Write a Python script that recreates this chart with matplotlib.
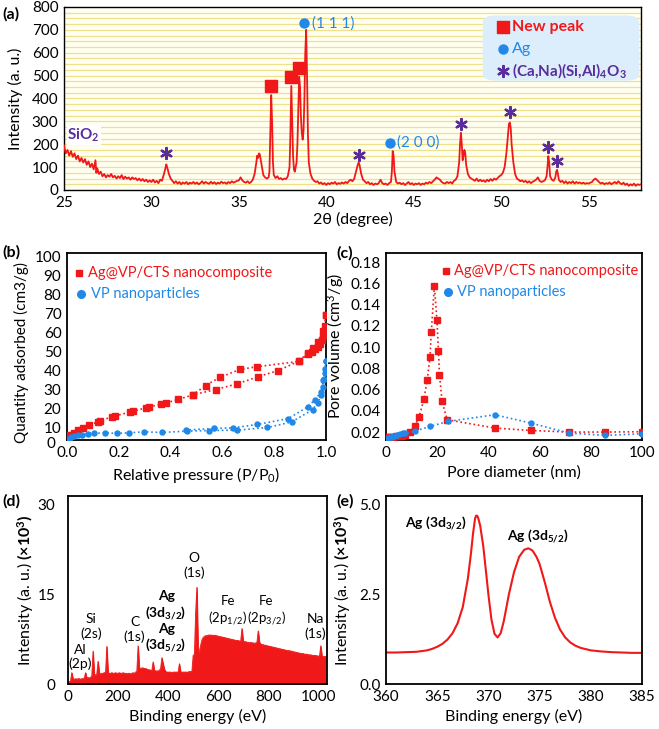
import numpy as np
import matplotlib
matplotlib.use("Agg")
import matplotlib.pyplot as plt
from matplotlib.patches import FancyBboxPatch

plt.rcParams['font.family'] = ['Lato', 'DejaVu Sans']
plt.rcParams['mathtext.fontset'] = 'custom'
plt.rcParams['mathtext.rm'] = 'Lato'
plt.rcParams['mathtext.it'] = 'Lato:italic'
plt.rcParams['mathtext.bf'] = 'Lato:bold'

# ---------------- data ----------------
# (a) XRD pattern
xrd_2theta = [25.0, 25.1, 25.2, 25.3, 25.4, 25.5, 25.6, 25.7, 25.8, 25.9, 26.0, 26.1, 26.2, 26.3, 26.4, 26.5, 26.6, 26.7, 26.8, 26.85,
              26.9, 27.0, 27.1, 27.2, 27.3, 27.4, 27.5, 27.6, 27.7, 27.8, 27.9, 28.0, 28.1, 28.2, 28.3, 28.4, 28.5, 28.6, 28.7, 28.8,
              28.9, 29.0, 29.1, 29.2, 29.3, 29.4, 29.5, 29.6, 29.7, 29.8, 29.9, 30.0, 30.1, 30.2, 30.3, 30.4, 30.5, 30.6, 30.7, 30.8,
              30.85, 30.9, 31.0, 31.1, 31.2, 31.3, 31.4, 31.5, 31.6, 31.7, 31.8, 31.9, 32.0, 32.1, 32.2, 32.3, 32.4, 32.5, 32.6, 32.7,
              32.8, 32.9, 33.0, 33.1, 33.2, 33.3, 33.4, 33.5, 33.6, 33.7, 33.8, 33.9, 34.0, 34.1, 34.2, 34.3, 34.4, 34.5, 34.6, 34.7,
              34.8, 34.9, 35.0, 35.1, 35.2, 35.3, 35.4, 35.5, 35.6, 35.7, 35.8, 35.9, 36.0, 36.05, 36.1, 36.15, 36.2, 36.3, 36.4, 36.5,
              36.6, 36.7, 36.75, 36.8, 36.85, 36.9, 36.95, 37.0, 37.1, 37.2, 37.3, 37.4, 37.5, 37.6, 37.7, 37.8, 37.9, 37.95, 38.0, 38.05,
              38.1, 38.15, 38.2, 38.3, 38.35, 38.4, 38.45, 38.5, 38.55, 38.6, 38.65, 38.7, 38.75, 38.8, 38.85, 38.9, 38.95, 39.0, 39.1, 39.2,
              39.3, 39.4, 39.5, 39.6, 39.7, 39.8, 39.9, 40.0, 40.1, 40.2, 40.3, 40.4, 40.5, 40.6, 40.7, 40.8, 40.9, 41.0, 41.1, 41.2,
              41.3, 41.4, 41.5, 41.6, 41.7, 41.8, 41.85, 41.9, 42.0, 42.1, 42.2, 42.3, 42.4, 42.5, 42.6, 42.7, 42.8, 42.9, 43.0, 43.1,
              43.2, 43.3, 43.4, 43.5, 43.6, 43.7, 43.75, 43.8, 43.85, 43.9, 44.0, 44.1, 44.2, 44.3, 44.4, 44.5, 44.6, 44.7, 44.8, 44.9,
              45.0, 45.1, 45.2, 45.3, 45.4, 45.5, 45.6, 45.7, 45.8, 45.9, 46.0, 46.1, 46.2, 46.3, 46.4, 46.5, 46.6, 46.7, 46.8, 46.9,
              47.0, 47.1, 47.2, 47.3, 47.4, 47.5, 47.6, 47.65, 47.7, 47.75, 47.8, 47.85, 47.9, 47.95, 48.0, 48.1, 48.2, 48.3, 48.4, 48.5,
              48.6, 48.7, 48.8, 48.9, 49.0, 49.1, 49.2, 49.3, 49.4, 49.5, 49.6, 49.7, 49.8, 49.9, 50.0, 50.1, 50.2, 50.3, 50.4, 50.45,
              50.5, 50.55, 50.6, 50.7, 50.8, 50.9, 51.0, 51.1, 51.2, 51.3, 51.4, 51.5, 51.6, 51.7, 51.8, 51.9, 52.0, 52.1, 52.2, 52.3,
              52.4, 52.5, 52.6, 52.65, 52.7, 52.75, 52.8, 52.9, 53.0, 53.1, 53.15, 53.2, 53.25, 53.3, 53.4, 53.5, 53.6, 53.7, 53.8, 53.9,
              54.0, 54.1, 54.2, 54.3, 54.4, 54.5, 54.6, 54.7, 54.8, 54.9, 55.0, 55.1, 55.2, 55.3, 55.4, 55.5, 55.6, 55.7, 55.8, 55.9,
              56.0, 56.1, 56.2, 56.3, 56.4, 56.5, 56.6, 56.7, 56.8, 56.9, 57.0, 57.1, 57.2, 57.3, 57.4, 57.5, 57.6, 57.7, 57.8, 57.9, 58.0]
xrd_intensity = [195, 160, 175, 150, 170, 145, 160, 135, 150, 125, 140, 120, 135, 110, 125, 100, 115, 90, 130, 75,
                 95, 70, 80, 60, 70, 55, 65, 58, 70, 55, 62, 50, 60, 52, 65, 48, 58, 50, 55, 45,
                 55, 48, 52, 42, 50, 40, 48, 38, 45, 35, 42, 35, 45, 33, 40, 30, 45, 40, 65, 95,
                 112, 100, 70, 50, 40, 30, 38, 28, 35, 25, 33, 28, 35, 25, 32, 28, 35, 27, 33, 25,
                 30, 38, 28, 35, 30, 27, 36, 28, 34, 26, 32, 28, 36, 30, 33, 27, 35, 30, 38, 32,
                 36, 40, 42, 55, 42, 35, 32, 38, 30, 35, 45, 70, 120, 150, 140, 160, 155, 110, 65, 55,
                 50, 55, 80, 250, 415, 300, 120, 65, 52, 60, 48, 52, 45, 50, 48, 60, 100, 250, 455, 300,
                 150, 90, 80, 120, 200, 350, 495, 450, 320, 250, 220, 260, 400, 600, 700, 500, 250, 120, 70, 50,
                 40, 35, 38, 28, 33, 25, 30, 22, 30, 25, 32, 28, 35, 25, 30, 27, 33, 28, 35, 30,
                 40, 45, 38, 50, 80, 110, 120, 110, 70, 45, 38, 30, 35, 25, 30, 22, 28, 25, 30, 45,
                 30, 25, 28, 22, 30, 35, 80, 170, 150, 80, 35, 28, 32, 25, 30, 22, 28, 35, 25, 30,
                 22, 28, 25, 30, 22, 28, 25, 32, 28, 35, 30, 38, 45, 55, 50, 45, 35, 30, 28, 35,
                 30, 35, 28, 40, 45, 60, 120, 200, 250, 200, 130, 150, 175, 160, 110, 70, 55, 50, 45, 40,
                 50, 38, 45, 38, 42, 35, 45, 38, 48, 40, 50, 45, 52, 60, 65, 75, 100, 160, 250, 290,
                 295, 270, 200, 120, 70, 50, 45, 38, 42, 35, 40, 32, 38, 30, 36, 40, 45, 55, 40, 35,
                 38, 42, 60, 100, 148, 120, 60, 45, 40, 55, 80, 88, 70, 45, 35, 40, 30, 38, 28, 35,
                 30, 38, 28, 35, 30, 33, 28, 32, 27, 30, 28, 32, 35, 45, 50, 42, 35, 28, 32, 25,
                 30, 27, 33, 25, 30, 35, 28, 38, 30, 25, 32, 22, 28, 18, 25, 20, 28, 18, 25, 22, 25]

new_peak_pos = [36.85, 38.0, 38.45]
new_peak_mark = [455, 492, 535]
ag_pos = [38.75, 43.65]
ag_mark = [728, 207]
ag_labels = ["(1 1 1)", "(2 0 0)"]
feldspar_pos = [30.85, 41.85, 47.7, 50.5, 52.7, 53.2]
feldspar_mark = [160, 154, 290, 340, 190, 125]

# (b) N2 isotherms
b_red_ads_p = [0.013, 0.028, 0.043, 0.062, 0.084, 0.119, 0.126, 0.174, 0.187, 0.245, 0.254, 0.306, 0.316, 0.361, 0.381,
               0.430, 0.486, 0.574, 0.655, 0.739, 0.813, 0.894, 0.932, 0.946, 0.957, 0.968, 0.978, 0.985, 0.99, 0.995,
               0.997, 1.0]
b_red_ads_v = [6.1, 7.3, 8.7, 9.9, 11.3, 13.0, 13.6, 15.7, 16.2, 18.3, 18.6, 20.5, 20.9, 22.3, 23.0,
               24.9, 27.3, 30.1, 33.0, 36.9, 40.0, 44.9, 48.7, 49.9, 51.3, 52.5, 53.9, 56.0, 58.3, 60.5,
               63.5, 69.2]
b_red_des_p = [1.0, 0.99, 0.97, 0.95, 0.93, 0.894, 0.733, 0.668, 0.590, 0.535, 0.486]
b_red_des_v = [69.2, 61.0, 55.0, 52.0, 49.5, 44.9, 42.1, 40.7, 36.5, 32.2, 27.3]
b_blue_ads_p = [0.006, 0.015, 0.026, 0.041, 0.058, 0.08, 0.106, 0.145, 0.194, 0.239, 0.297, 0.368, 0.465, 0.548,
                0.658, 0.774, 0.867, 0.948, 0.968, 0.98, 0.988, 0.994, 0.997, 1.0]
b_blue_ads_v = [4.0, 5.2, 5.7, 6.1, 6.4, 6.6, 7.0, 7.3, 7.0, 7.3, 7.8, 7.5, 8.2, 8.5,
                8.7, 10.1, 13.0, 19.5, 23.0, 27.0, 31.5, 35.5, 39.0, 45.2]
b_blue_des_p = [1.0, 0.996, 0.99, 0.98, 0.957, 0.929, 0.854, 0.735, 0.641, 0.568, 0.46]
b_blue_des_v = [45.2, 41.0, 35.0, 28.7, 24.7, 20.9, 14.8, 11.7, 9.9, 9.6, 8.8]

# (c) pore size distribution
c_red_d = [0.4, 1.1, 2.0, 2.9, 4.0, 5.0, 6.2, 7.3, 9.2, 11.2, 12.9, 14.8, 16.1, 17.2, 17.7, 18.9, 19.9, 20.5,
           20.9, 21.9, 23.9, 42.5, 56.5, 71.6, 85.5, 100.0]
c_red_v = [0.0153, 0.0150, 0.0153, 0.0157, 0.0160, 0.0163, 0.0167, 0.0173, 0.020, 0.0253, 0.034, 0.0507,
           0.069, 0.0906, 0.1138, 0.1577, 0.1257, 0.0959, 0.074, 0.0489, 0.0316, 0.0238, 0.0215, 0.020,
           0.020, 0.0203]
c_blue_d = [0.0, 0.7, 1.5, 2.4, 3.3, 4.4, 5.4, 6.5, 7.5, 11.5, 17.2, 24.2, 42.5, 56.5, 71.6, 85.7, 100.0]
c_blue_v = [0.0137, 0.0143, 0.015, 0.0157, 0.0165, 0.0175, 0.018, 0.0187, 0.019, 0.021, 0.0253, 0.030,
            0.0363, 0.0285, 0.019, 0.0169, 0.0184]

# (d) XPS survey (k counts), 5 eV steps
d_energy_step = 5
d_intensity = [0.3, 0.4, 0.5, 1.9, 0.8, 0.8, 0.9, 0.8, 0.9, 0.9, 0.8, 0.9, 0.9, 1.0, 1.9, 1.0, 1.1, 1.0, 1.1, 1.4,
               5.5, 1.6, 1.5, 1.7, 3.8, 1.8, 1.7, 1.8, 1.8, 1.9, 2.0, 6.3, 1.9, 1.8, 1.8, 1.9, 1.8, 1.8, 1.9, 1.8,
               1.8, 1.9, 1.8, 1.8, 1.9, 1.8, 1.8, 1.7, 1.8, 1.8, 1.7, 1.8, 1.9, 1.8, 2.0, 2.2, 6.4, 2.6, 2.6, 2.7,
               2.7, 2.6, 2.6, 2.5, 2.4, 2.4, 2.3, 2.3, 3.7, 2.3, 2.2, 2.2, 2.2, 2.3, 2.6, 4.4, 3.4, 2.5, 2.1, 2.0,
               2.0, 2.0, 2.0, 1.9, 2.0, 2.0, 2.0, 2.0, 2.0, 3.4, 2.0, 2.0, 2.0, 2.0, 2.0, 2.0, 2.0, 2.1, 2.1, 2.1,
               4.8, 5.0, 12.0, 16.2, 5.2, 5.5, 6.5, 7.4, 7.8, 8.0, 8.1, 8.1, 8.2, 8.2, 8.2, 8.2, 8.1, 8.2, 8.1, 8.1,
               8.0, 8.0, 7.9, 7.9, 7.8, 7.8, 7.7, 7.7, 7.6, 7.6, 7.5, 7.5, 7.4, 7.4, 7.3, 7.3, 7.3, 7.2, 7.2, 9.3,
               7.2, 7.1, 7.1, 7.0, 7.0, 6.9, 7.0, 6.9, 6.9, 6.8, 6.9, 7.0, 8.9, 7.0, 6.7, 6.6, 6.6, 6.5, 6.5, 6.4,
               6.4, 6.3, 6.3, 6.2, 6.2, 6.1, 6.1, 6.0, 6.0, 5.9, 5.9, 5.8, 5.8, 5.7, 5.7, 5.6, 5.6, 5.6, 5.5, 5.5,
               5.4, 5.4, 5.3, 5.3, 5.2, 5.2, 5.1, 5.1, 5.1, 5.0, 5.0, 5.0, 4.9, 4.9, 4.9, 4.8, 4.8, 4.8, 4.8, 4.7,
               4.7, 4.7, 6.4, 4.6, 4.6, 4.6, 4.6]

# (e) Ag 3d high resolution (k counts)
e_energy = [360.0, 361.0, 362.0, 363.0, 364.0, 364.5, 365.0, 365.5, 366.0, 366.5, 367.0, 367.5, 368.0, 368.3, 368.5,
            368.7, 368.8, 368.9, 369.0, 369.2, 369.5, 369.8, 370.0, 370.3, 370.6, 370.9, 371.2, 371.5, 371.8, 372.0,
            372.5, 373.0, 373.5, 373.9, 374.3, 374.7, 375.0, 375.5, 376.0, 376.5, 377.0, 377.5, 378.0, 378.5, 379.0,
            380.0, 381.0, 382.0, 383.0, 384.0, 385.0]
e_intensity = [0.88, 0.88, 0.89, 0.90, 0.94, 0.98, 1.04, 1.12, 1.24, 1.42, 1.70, 2.15, 2.95, 3.65, 4.20,
               4.62, 4.70, 4.70, 4.64, 4.42, 3.85, 3.05, 2.50, 1.80, 1.40, 1.30, 1.42, 1.75, 2.20, 2.50,
               3.12, 3.55, 3.75, 3.79, 3.73, 3.55, 3.35, 2.85, 2.30, 1.85, 1.52, 1.30, 1.16, 1.07, 1.01,
               0.94, 0.91, 0.89, 0.88, 0.87, 0.87]

RED = '#F01818'
BLUE = '#2088E8'
PURPLE = '#5A2D9C'
TICK_FS = 11
LAB_FS = 11.5
LEG_FS = 10.5

fig = plt.figure(figsize=(6.59, 7.29), dpi=100)

def style(ax):
    ax.tick_params(length=0, labelsize=TICK_FS, pad=4)
    for s in ax.spines.values():
        s.set_linewidth(1.3)
        s.set_color('black')

# ---------------- (a) ----------------
axa = fig.add_axes([0.0971, 0.7394, 0.8756, 0.2510])
axa.set_facecolor('#FFFEF3')
for yv in np.arange(25, 800, 25):
    axa.axhline(yv, color='#F0E08A', lw=0.9, zorder=0)
axa.plot(xrd_2theta, xrd_intensity, color=RED, lw=1.3, zorder=3)
axa.set_xlim(25, 58)
axa.set_ylim(0, 800)
axa.set_xticks(range(25, 56, 5))
axa.set_yticks(range(0, 801, 100))
style(axa)
axa.spines[:].set_linewidth(1.0)
axa.set_xlabel('2θ (degree)', fontsize=LAB_FS, labelpad=2)
axa.set_ylabel('Intensity (a. u.)', fontsize=LAB_FS, labelpad=6)
axa.scatter(new_peak_pos, new_peak_mark, marker='s', s=80, color=RED, zorder=5)
axa.scatter(ag_pos, ag_mark, marker='o', s=42, color=BLUE, zorder=5)
for x, y, t in zip(ag_pos, ag_mark, ag_labels):
    axa.text(x + 0.42, y, t, color=BLUE, fontsize=11, va='center', ha='left', zorder=5)
axa.scatter(feldspar_pos, feldspar_mark, marker=(6, 2, 0), s=62, color=PURPLE, linewidths=1.7, zorder=5)
axa.text(25.2, 240, r'SiO$_{\mathbf{2}}$', color=PURPLE, fontsize=11, fontweight='bold', ha='left', va='center',
         bbox=dict(facecolor='white', edgecolor='none', pad=0.5), zorder=5)
box = FancyBboxPatch((48.95, 478), 8.95, 285, boxstyle='round,pad=0,rounding_size=0.8',
                     mutation_aspect=35, facecolor='#DCEEFB', edgecolor='none', zorder=4, transform=axa.transData)
axa.add_patch(box)
axa.scatter([50.1], [712], marker='s', s=80, color=RED, zorder=5)
axa.text(50.6, 712, 'New peak', color=RED, fontsize=11.5, fontweight='bold', va='center', zorder=5)
axa.scatter([50.1], [617], marker='o', s=42, color=BLUE, zorder=5)
axa.text(50.6, 617, 'Ag', color=BLUE, fontsize=11.5, va='center', zorder=5)
axa.scatter([50.1], [520], marker=(6, 2, 0), s=62, color=PURPLE, linewidths=1.7, zorder=5)
axa.text(50.6, 520, r'(Ca,Na)(Si,Al)$_{\mathbf{4}}$O$_{\mathbf{3}}$', color=PURPLE, fontsize=11,
         fontweight='bold', va='center', zorder=5)
fig.text(0.004, 0.990, '(a)', fontsize=11.5, fontweight='bold', va='top')

# ---------------- (b) ----------------
axb = fig.add_axes([0.1017, 0.3964, 0.3930, 0.2565])
axb.plot(b_red_ads_p, b_red_ads_v, ls=':', lw=1.2, color=RED, marker='s', ms=4, zorder=3)
axb.plot(b_red_des_p, b_red_des_v, ls=':', lw=1.2, color=RED, marker='s', ms=4, zorder=3)
axb.plot(b_blue_ads_p, b_blue_ads_v, ls=':', lw=1.2, color=BLUE, marker='o', ms=3.6, zorder=3)
axb.plot(b_blue_des_p, b_blue_des_v, ls=':', lw=1.2, color=BLUE, marker='o', ms=3.6, zorder=3)
axb.set_xlim(0, 1.0)
axb.set_ylim(3.5, 102)
axb.set_yticks(range(10, 101, 10))
axb.set_xticks(np.arange(0, 1.01, 0.2))
axb.set_xticklabels(['0.0', '0.2', '0.4', '0.6', '0.8', '1.0'])
style(axb)
axb.text(-0.045, -0.022, '0', transform=axb.transAxes, fontsize=TICK_FS, ha='right', va='center')
axb.set_xlabel(r'Relative pressure (P/P$_0$)', fontsize=LAB_FS, labelpad=4)
axb.set_ylabel('Quantity adsorbed (cm3/g)', fontsize=11, labelpad=4, y=0.47)
axb.plot([0.048], [0.895], marker='s', ms=5, color=RED, transform=axb.transAxes)
axb.text(0.08, 0.895, 'Ag@VP/CTS nanocomposite', color=RED, fontsize=LEG_FS, va='center', transform=axb.transAxes)
axb.plot([0.055], [0.783], marker='o', ms=5.5, color=BLUE, transform=axb.transAxes)
axb.text(0.093, 0.783, 'VP nanoparticles', color=BLUE, fontsize=LEG_FS, va='center', transform=axb.transAxes)
fig.text(0.004, 0.664, '(b)', fontsize=11.5, fontweight='bold', va='top')

# ---------------- (c) ----------------
axc = fig.add_axes([0.5857, 0.3964, 0.3885, 0.2565])
axc.plot(c_red_d, c_red_v, ls=':', lw=1.2, color=RED, marker='s', ms=4, zorder=3)
axc.plot(c_blue_d, c_blue_v, ls=':', lw=1.2, color=BLUE, marker='o', ms=3.6, zorder=3)
axc.set_xlim(0, 100)
axc.set_ylim(0.0125, 0.1885)
axc.set_yticks(np.arange(0.02, 0.181, 0.02))
axc.set_yticklabels(['%.2f' % v for v in np.arange(0.02, 0.181, 0.02)])
axc.set_xticks(range(0, 101, 20))
style(axc)
axc.set_xlabel('Pore diameter (nm)', fontsize=LAB_FS, labelpad=4)
axc.set_ylabel(r'Pore volume (cm$^3$/g)', fontsize=LAB_FS, labelpad=3)
axc.plot([0.234], [0.902], marker='s', ms=5, color=RED, transform=axc.transAxes)
axc.text(0.264, 0.902, 'Ag@VP/CTS nanocomposite', color=RED, fontsize=LEG_FS, va='center', transform=axc.transAxes)
axc.plot([0.244], [0.789], marker='o', ms=5.5, color=BLUE, transform=axc.transAxes)
axc.text(0.277, 0.789, 'VP nanoparticles', color=BLUE, fontsize=LEG_FS, va='center', transform=axc.transAxes)
fig.text(0.510, 0.662, '(c)', fontsize=11.5, fontweight='bold', va='top')

# ---------------- (d) ----------------
axd = fig.add_axes([0.1032, 0.0617, 0.3930, 0.2579])
d_energy = np.arange(len(d_intensity)) * d_energy_step
axd.fill_between(d_energy, 0, d_intensity, color=RED, lw=0.6, zorder=2)
axd.plot(d_energy, d_intensity, color=RED, lw=0.6, zorder=2)
axd.set_xlim(0, 1035)
axd.set_ylim(0, 31.5)
axd.set_yticks([0, 15, 30])
axd.set_xticks(range(0, 1001, 200))
style(axd)
axd.tick_params(axis='y', pad=9)
axd.set_xlabel('Binding energy (eV)', fontsize=LAB_FS, labelpad=4)
axd.set_ylabel(r'Intensity (a. u.) $\mathbf{(\times 10^3)}$', fontsize=LAB_FS, labelpad=1)
AFS = 10
axd.text(50, 2.3, 'Al\n(2p)', fontsize=AFS, ha='center', va='bottom', linespacing=1.2)
axd.text(92, 7.4, 'Si\n(2s)', fontsize=AFS, ha='center', va='bottom', linespacing=1.2)
axd.text(266, 6.9, 'C\n(1s)', fontsize=AFS, ha='center', va='bottom', linespacing=1.2)
axd.text(392, 5.0, 'Ag\n' + r'(3d$_{\mathbf{3/2}}$)' + '\nAg\n' + r'(3d$_{\mathbf{5/2}}$)', fontsize=AFS,
         fontweight='bold', ha='center', va='bottom', linespacing=1.15)
axd.text(505, 17.6, 'O\n(1s)', fontsize=AFS, ha='center', va='bottom', linespacing=1.2)
axd.text(638, 9.6, 'Fe\n' + r'(2p$_{1/2}$)', fontsize=9.5, ha='center', va='bottom', linespacing=1.2)
axd.text(792, 9.6, 'Fe\n' + r'(2p$_{3/2}$)', fontsize=9.5, ha='center', va='bottom', linespacing=1.2)
axd.text(988, 7.4, 'Na\n(1s)', fontsize=AFS, ha='center', va='bottom', linespacing=1.2)
fig.text(0.004, 0.322, '(d)', fontsize=11.5, fontweight='bold', va='top')

# ---------------- (e) ----------------
axe = fig.add_axes([0.5857, 0.0617, 0.3885, 0.2579])
axe.plot(e_energy, e_intensity, color=RED, lw=1.5)
axe.set_xlim(360, 385)
axe.set_ylim(0, 5.25)
axe.set_yticks([0.0, 2.5, 5.0])
axe.set_yticklabels(['0.0', '2.5', '5.0'])
axe.set_xticks(range(360, 386, 5))
style(axe)
axe.set_xlabel('Binding energy (eV)', fontsize=LAB_FS, labelpad=4)
axe.set_ylabel(r'Intensity (a. u.) $\mathbf{(\times 10^3)}$', fontsize=LAB_FS, labelpad=4)
axe.text(364.9, 4.49, r'Ag (3d$_{\mathbf{3/2}}$)', fontsize=AFS, fontweight='bold', ha='center', va='center')
axe.text(374.85, 4.12, r'Ag (3d$_{\mathbf{5/2}}$)', fontsize=AFS, fontweight='bold', ha='center', va='center')
fig.text(0.510, 0.322, '(e)', fontsize=11.5, fontweight='bold', va='top')

fig.savefig('out.png', dpi=100)
